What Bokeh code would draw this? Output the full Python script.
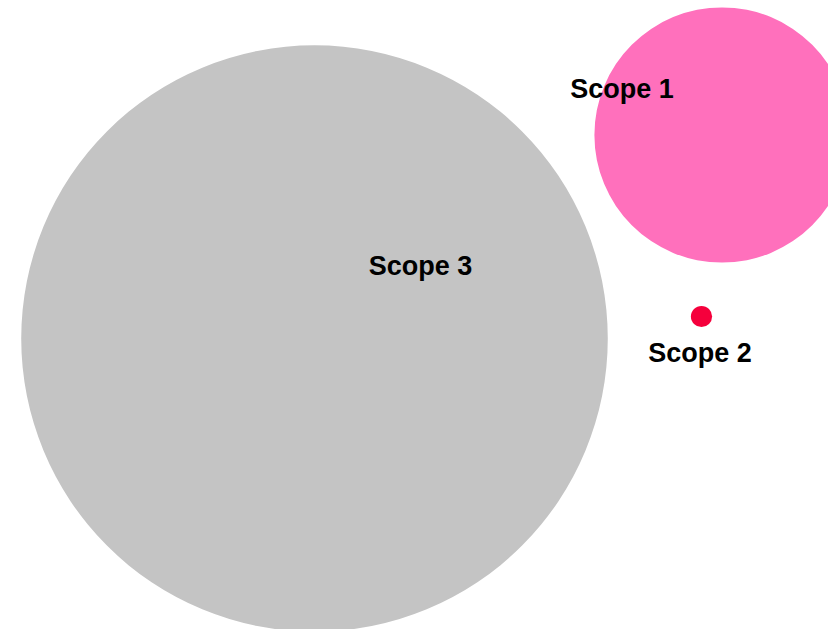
from bokeh.plotting import figure
from bokeh.models import Range1d, ColumnDataSource
from bokeh.core.properties import value
from bokeh.embed import file_html
from bokeh.resources import INLINE
import math

# Data (share of emissions, %)
scopes = ["Scope 1", "Scope 2", "Scope 3"]
shares = [15.9, 0.11, 84.0]
colors = ["#FF70BC", "#F5003C", "#C4C4C4"]
# bubble centre positions (layout units)
bx = [721.5, 701.0, 314.0]
by = [494.5, 313.0, 291.0]
# label positions (layout units)
lx = [621.5, 699.5, 420.0]
ly = [541.0, 277.0, 364.0]

SCALE = 32.0
radii = [SCALE * math.sqrt(s) for s in shares]

W, H = 828, 629
p = figure(width=W, height=H, output_backend="svg", toolbar_location=None,
           x_range=Range1d(0, W), y_range=Range1d(0, H), min_border=0)
p.axis.visible = False
p.grid.visible = False
p.outline_line_color = None
p.background_fill_color = "white"
p.border_fill_color = "white"

src = ColumnDataSource(dict(x=bx, y=by, r=radii, c=colors, name=scopes,
                            lx=lx, ly=ly))
p.circle(x="x", y="y", radius="r", fill_color="c", line_color=None, source=src)
p.text(x="lx", y="ly", text="name", source=src, text_align="center",
       text_baseline="middle", text_font=value("Liberation Sans"),
       text_font_style="bold", text_font_size="27px", text_color="black")

open("out.html", "w").write(file_html(p, INLINE))
